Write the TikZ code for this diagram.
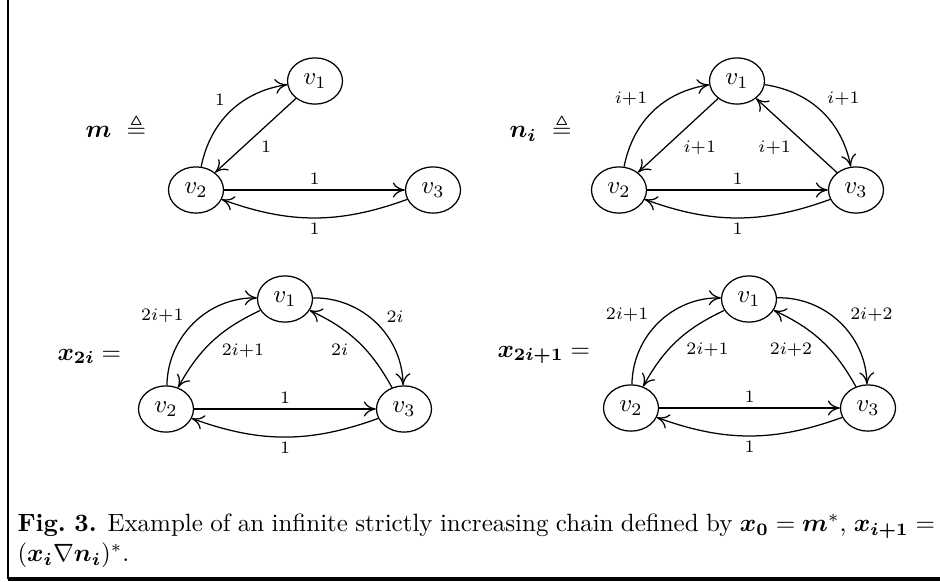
\documentclass[tikz,border=0pt]{standalone}
\usepackage{amsmath,amssymb}
\usetikzlibrary{shapes.geometric,arrows.meta}

\tikzset{
  vtx/.style={ellipse, draw, line width=0.5pt, minimum width=22pt, minimum height=18.5pt, inner sep=1pt},
  conn/.style={->, line width=0.5pt, >={To[length=4.8pt,width=6pt]}},
  wt/.style={execute at begin node=$\scriptstyle, execute at end node=$, inner sep=2pt},
}

\begin{document}
\begin{tikzpicture}[x=0.4pt,y=-0.4pt]
  \useasboundingbox (0,0) rectangle (940,581);

  % frame of the figure box
  \draw[line width=0.7pt] (7.8,0) -- (7.8,579);
  \draw[line width=1.6pt] (7.5,579) -- (940,579);

  % m
  \node[anchor=base west, inner sep=0] (mlbl) at (85,137.5) {$\boldsymbol{m}\ \triangleq$};
  \begin{scope}[shift={(196,190)}]
    \node[vtx] (m2) at (0,0) {$v_2$};
    \node[vtx] (m1) at (119,-109) {$v_1$};
    \node[vtx] (m3) at (237,0) {$v_3$};
    \draw[conn] (m2) to[bend left=35] node[wt, above left] {1} (m1);
    \draw[conn] (m1) -- node[wt, below right] {1} (m2);
    \draw[conn] (m2) -- node[wt, above] {1} (m3);
    \draw[conn] (m3) to[bend left=20] node[wt, below] {1} (m2);
  \end{scope}

  % n_i
  \node[anchor=base west, inner sep=0] (nlbl) at (509,137.5) {$\boldsymbol{n_i}\ \triangleq$};
  \begin{scope}[shift={(619,190)}]
    \node[vtx] (n2) at (0,0) {$v_2$};
    \node[vtx] (n1) at (118,-109) {$v_1$};
    \node[vtx] (n3) at (237,0) {$v_3$};
    \draw[conn] (n2) to[bend left=35] node[wt, above left] {i+1} (n1);
    \draw[conn] (n1) -- node[wt, below right] {i+1} (n2);
    \draw[conn] (n1) to[bend left=35] node[wt, above right] {i+1} (n3);
    \draw[conn] (n3) -- node[wt, below left] {i+1} (n1);
    \draw[conn] (n2) -- node[wt, above] {1} (n3);
    \draw[conn] (n3) to[bend left=20] node[wt, below] {1} (n2);
  \end{scope}

  % x_{2i}
  \node[anchor=base west, inner sep=0] (elbl) at (57,360) {$\boldsymbol{x_{2i}} =$};
  \begin{scope}[shift={(166,409)}]
    \node[vtx] (e2) at (0,0) {$v_2$};
    \node[vtx] (e1) at (119,-110) {$v_1$};
    \node[vtx] (e3) at (238,0) {$v_3$};
    \draw[conn] (e2) to[bend left=45] node[wt, above left, pos=0.45] {2i+1} (e1);
    \draw[conn] (e1) to[bend right=18] node[wt, below right, pos=0.45] {2i+1} (e2);
    \draw[conn] (e1) to[bend left=45] node[wt, above right, pos=0.55] {2i} (e3);
    \draw[conn] (e3) to[bend right=18] node[wt, below left, pos=0.55] {2i} (e1);
    \draw[conn] (e2) -- node[wt, above] {1} (e3);
    \draw[conn] (e3) to[bend left=20] node[wt, below] {1} (e2);
  \end{scope}

  % x_{2i+1}
  \node[anchor=base west, inner sep=0] (olbl) at (497,357) {$\boldsymbol{x_{2i+1}} =$};
  \begin{scope}[shift={(631,408)}]
    \node[vtx] (o2) at (0,0) {$v_2$};
    \node[vtx] (o1) at (118,-109) {$v_1$};
    \node[vtx] (o3) at (237,0) {$v_3$};
    \draw[conn] (o2) to[bend left=45] node[wt, above left, pos=0.45] {2i+1} (o1);
    \draw[conn] (o1) to[bend right=18] node[wt, below right, pos=0.45] {2i+1} (o2);
    \draw[conn] (o1) to[bend left=45] node[wt, above right, pos=0.55] {2i+2} (o3);
    \draw[conn] (o3) to[bend right=18] node[wt, below left, pos=0.55] {2i+2} (o1);
    \draw[conn] (o2) -- node[wt, above] {1} (o3);
    \draw[conn] (o3) to[bend left=20] node[wt, below] {1} (o2);
  \end{scope}

  % caption
  \node[anchor=north west, inner sep=0, text width=367pt, align=justify] (cap) at (17,513.5)
    {\fontsize{10}{10}\selectfont\textbf{Fig.~3.} Example of an infinite strictly increasing chain defined by
     $\boldsymbol{x_0} = \boldsymbol{m}^*$,\ $\boldsymbol{x_{i+1}} =$\linebreak
     $(\boldsymbol{x_i}\nabla\boldsymbol{n_i})^*$.};
\end{tikzpicture}
\end{document}
